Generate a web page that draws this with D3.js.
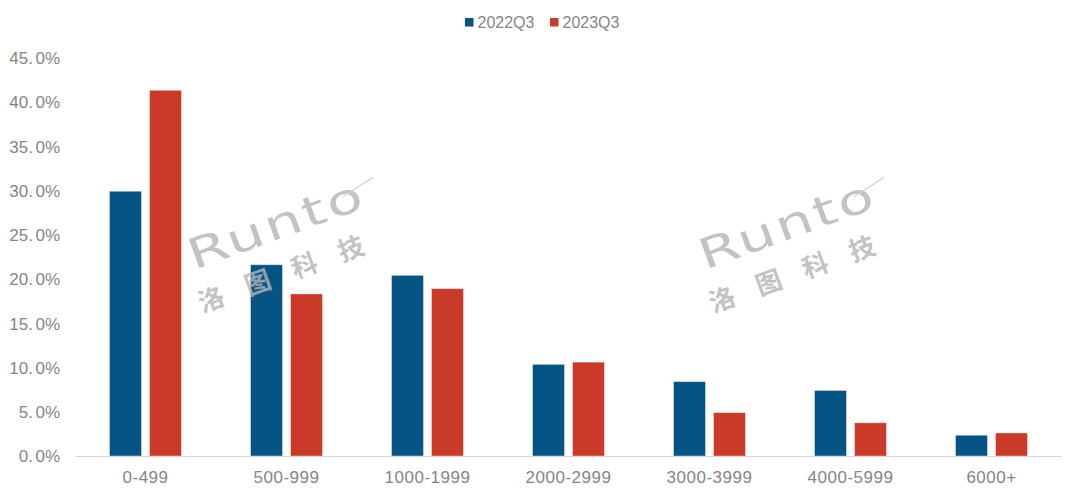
<!DOCTYPE html>
<html><head><meta charset="utf-8">
<script src="https://cdn.jsdelivr.net/npm/d3@7"></script>
<style>body{margin:0;background:#fff}svg{display:block}</style>
</head><body><div id="chart"></div>
<script>
const categories = ["0-499","500-999","1000-1999","2000-2999","3000-3999","4000-5999","6000+"];
const seriesNames = ["2022Q3","2023Q3"];
const values2022 = [29.9, 21.6, 20.4, 10.35, 8.4, 7.4, 2.35];
const values2023 = [41.3, 18.3, 18.9, 10.6, 4.9, 3.75, 2.6];
const yTicks = [0,5,10,15,20,25,30,35,40,45];
const colors = ["#065486","#C93A29"];

const W=1080,H=497;
const svg=d3.select("#chart").append("svg").attr("width",W).attr("height",H);
const font="'Liberation Sans',Arial,sans-serif";
const txtCol="#858585";

const x0=d3.scaleBand().domain(categories).range([75,1062]).padding(0);
const y=d3.scaleLinear().domain([0,45]).range([456,57.5]);
const x1=d3.scaleBand().domain(seriesNames).range([-36,36]).paddingInner(0.2);

const data=[values2022,values2023];
const g=svg.append("g");
categories.forEach((c,i)=>{
  seriesNames.forEach((s,j)=>{
    const cx=x0(c)+x0.bandwidth()/2;
    g.append("rect")
      .attr("x",cx+x1(s)).attr("width",x1.bandwidth())
      .attr("y",y(data[j][i])).attr("height",y(0)-y(data[j][i]))
      .attr("fill",colors[j]).attr("stroke","#fff").attr("stroke-opacity",0.5).attr("stroke-width",0.8);
  });
});

// baseline
svg.append("line").attr("x1",75).attr("x2",1062).attr("y1",y(0)+0.5).attr("y2",y(0)+0.5)
  .attr("stroke","#d9d9d9").attr("stroke-width",1);

// y axis labels
const yAxis=d3.axisLeft(y).tickValues(yTicks).tickSize(0).tickPadding(0)
  .tickFormat(d=>d3.format(".1f")(d)+"%");
const ya=svg.append("g").attr("transform","translate(60,0)").call(yAxis);
ya.select(".domain").remove();
ya.selectAll("text").attr("font-family",font).attr("font-size",17).attr("fill",txtCol)
  .attr("dy","0.35em").text(null)
  .each(function(d){
    const t=d3.select(this);
    const s=d3.format(".1f")(d).split(".");
    t.append("tspan").text(s[0]+".");
    t.append("tspan").attr("dx",2.5).text(s[1]+"%");
  });

// x axis labels
const xAxis=d3.axisBottom(x0).tickSize(0).tickPadding(0);
const xa=svg.append("g").attr("transform",`translate(0,${y(0)})`).call(xAxis);
xa.select(".domain").remove();
xa.selectAll("text").attr("font-family",font).attr("font-size",17).attr("fill",txtCol)
  .attr("letter-spacing",0.5).attr("y",21).attr("dy","0.35em");

// legend
const legX=[465,550];
seriesNames.forEach((s,j)=>{
  svg.append("rect").attr("x",legX[j]).attr("y",18).attr("width",8.5).attr("height",8.5).attr("fill",colors[j]);
  svg.append("text").attr("x",legX[j]+12.5).attr("y",22.5).attr("dy","0.35em")
    .attr("font-family",font).attr("font-size",16).attr("fill",txtCol).text(s);
});

// watermarks
[0,511].forEach(off=>{
  const wm=svg.append("g").attr("transform",`translate(${194+off},270) rotate(-20)`).attr("opacity",0.8);
  wm.append("text").attr("transform","scale(1.4,1)").attr("x",0).attr("y",0)
    .attr("font-family","'DejaVu Sans',sans-serif").attr("font-size",42).attr("letter-spacing",2)
    .attr("fill","#b5b5b5").text("Runto");
  wm.append("line").attr("x1",165).attr("x2",200).attr("y1",-18).attr("y2",-26)
    .attr("stroke","#c4c4c4").attr("stroke-width",1.2);
  wm.append("text").attr("x",-7).attr("y",43).attr("font-family","'Noto Sans CJK SC',sans-serif")
    .attr("font-size",26).attr("font-weight",700).attr("letter-spacing",23.6).attr("fill","#b5b5b5").text("洛图科技");
});
</script></body></html>
